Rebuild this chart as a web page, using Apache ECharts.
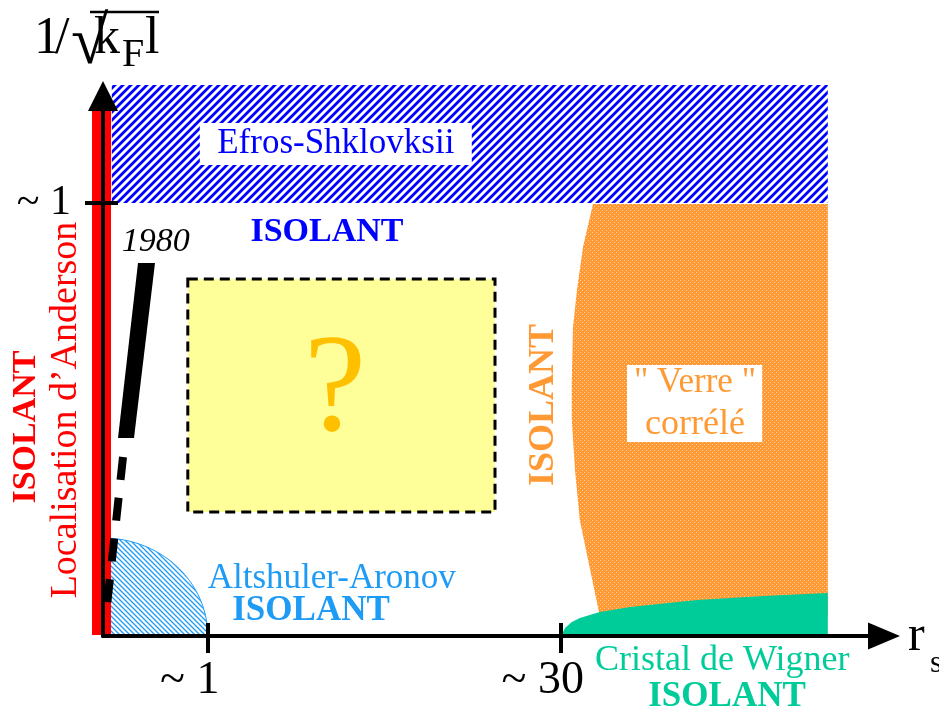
<!DOCTYPE html>
<html><head><meta charset="utf-8">
<script src="https://cdn.jsdelivr.net/npm/echarts@6/dist/echarts.min.js"></script>
<style>html,body{margin:0;padding:0;background:#fff}#c{width:939px;height:712px}</style>
</head><body><div id="c"></div>
<script>
// ---- schematic data (diagram units: x = r_s axis, y = 1/sqrt(kF l) axis) ----
const xTicks = [13.125, 57.25];
const xTickLabels = ['1', '30'];
const yTicks = [86.6];
const yTickLabels = ['1'];

const efrosBand = [[1.1, 86.6], [90.6, 110.2]];
const efrosLabelBox = [[12.1, 94.2], [46.1, 102.6]];
const verreLabelBox = [[65.5, 38.8], [82.4, 54.2]];
const questionBox = [[10.6, 24.8], [49.0, 71.4]];
const andersonBar = [[-1.375, 0.2], [1.0, 105.2]];
const line1980Solid = [[4.375, 74.6], [6.5, 74.6], [3.875, 39.6], [1.875, 39.6]];
const line1980Dashed = [[2.5, 35.8], [0.31, 3.2]];
const altshulerCenter = [0, 0];
const altshulerRadii = [13.1, 19.6];
const verreRegion = [[61.25, 86.4], [60.0, 77.8], [59.25, 69.2], [58.75, 61.8], [58.6, 51.2], [58.6, 43.2],
  [59.0, 33.2], [59.6, 23.2], [60.9, 13.2], [62.1, 4.0], [90.6, 4.0], [90.6, 86.4]];
const wignerRegion = [[57.25, 0], [57.75, 1.6], [58.6, 2.8], [59.6, 3.6], [62.1, 4.8], [65.9, 5.8],
  [74.25, 7.2], [82.5, 8.0], [90.6, 8.6], [90.6, 0]];

const labelTexts = ['Efros-Shklovksii', 'ISOLANT', 'ISOLANT', 'Localisation d\u2019Anderson', '1980', '?',
  'ISOLANT', '" Verre "', 'corrélé', 'Altshuler-Aronov', 'ISOLANT', 'Cristal de Wigner', 'ISOLANT'];
const labelAnchors = [[29.1, 98.4], [28.0, 80.8], [-9.6, 41.8], [-4.6, 45.2], [6.6, 78.8], [29.0, 48.6],
  [55.1, 46.2], [74.0, 50.6], [74.0, 42.2], [28.6, 11.4], [26.0, 5.0], [77.4, -5.0], [78.0, -12.2]];

// ---- styles ----
const FONT = '"Liberation Serif", "Times New Roman", serif';
const BLUE = '#0000FF', RED = '#FF0000', ORANGE = '#FF9933', GREEN = '#00CC99', LBLUE = '#1E9BF5', GOLD = '#FFC000';
const labelStyles = [
  {color: BLUE, size: 35}, {color: BLUE, size: 34, bold: true},
  {color: RED, size: 34, bold: true, rot: 90}, {color: RED, size: 38, rot: 90},
  {color: '#000', size: 34, italic: true}, {color: GOLD, size: 140},
  {color: ORANGE, size: 36, bold: true, rot: 90}, {color: ORANGE, size: 35}, {color: ORANGE, size: 36},
  {color: LBLUE, size: 35}, {color: LBLUE, size: 35, bold: true},
  {color: GREEN, size: 36}, {color: GREEN, size: 35, bold: true}
];

function hatch(color, p, lw, dir) {
  const c = document.createElement('canvas'); c.width = p; c.height = p;
  const g = c.getContext('2d');
  g.fillStyle = '#fff'; g.fillRect(0, 0, p, p);
  g.strokeStyle = color; g.lineWidth = lw; g.beginPath();
  if (dir === '/') {
    g.moveTo(-p, p); g.lineTo(p, -p);
    g.moveTo(0, p); g.lineTo(p, 0);
    g.moveTo(0, 2 * p); g.lineTo(2 * p, 0);
  } else {
    g.moveTo(-p, 0); g.lineTo(p, 2 * p);
    g.moveTo(0, 0); g.lineTo(p, p);
    g.moveTo(0, -p); g.lineTo(2 * p, p);
  }
  g.stroke();
  return {image: c, repeat: 'repeat'};
}
function dots() {
  const c = document.createElement('canvas'); c.width = 4; c.height = 4;
  const g = c.getContext('2d');
  g.fillStyle = ORANGE; g.fillRect(0, 0, 4, 4);
  g.fillStyle = 'rgba(255,255,255,0.55)'; g.fillRect(0, 0, 1, 1); g.fillRect(2, 2, 1, 1);
  return {image: c, repeat: 'repeat'};
}
const efrosPattern = hatch(BLUE, 8, 2.8, '/');
const altPattern = hatch(LBLUE, 5, 1.3, '\\');
const verrePattern = dots();

function rectOf(api, corners) {
  const a = api.coord(corners[0]), b = api.coord(corners[1]);
  return {x: Math.min(a[0], b[0]), y: Math.min(a[1], b[1]), width: Math.abs(b[0] - a[0]), height: Math.abs(b[1] - a[1])};
}
function poly(api, pts) { return pts.map(p => api.coord(p)); }

function shapeSeries(name, render) {
  return {type: 'custom', name, coordinateSystem: 'cartesian2d', data: [[0, 0]], silent: true,
    renderItem: (params, api) => render(api)};
}

const series = [
  shapeSeries('efros', api => ({type: 'rect', shape: rectOf(api, efrosBand), style: {fill: efrosPattern}})),
  shapeSeries('efrosBox', api => ({type: 'rect', shape: rectOf(api, efrosLabelBox), style: {fill: '#fff'}})),
  shapeSeries('verre', api => ({type: 'polygon', shape: {points: poly(api, verreRegion)}, style: {fill: verrePattern}})),
  shapeSeries('verreBox', api => ({type: 'rect', shape: rectOf(api, verreLabelBox), style: {fill: '#fff'}})),
  shapeSeries('wigner', api => ({type: 'polygon', shape: {points: poly(api, wignerRegion)}, style: {fill: GREEN}})),
  shapeSeries('altshuler', api => {
    const c = api.coord(altshulerCenter);
    const rx = api.coord([altshulerCenter[0] + altshulerRadii[0], altshulerCenter[1]])[0] - c[0];
    const ry = c[1] - api.coord([altshulerCenter[0], altshulerCenter[1] + altshulerRadii[1]])[1];
    const pts = [[c[0], c[1]]];
    for (let k = 0; k <= 60; k++) {
      const t = (Math.PI / 2) * k / 60;
      pts.push([c[0] + rx * Math.cos(t), c[1] - ry * Math.sin(t)]);
    }
    return {type: 'polygon', shape: {points: pts}, style: {fill: altPattern, stroke: LBLUE, lineWidth: 1}};
  }),
  shapeSeries('anderson', api => ({type: 'rect', shape: rectOf(api, andersonBar), style: {fill: RED}})),
  shapeSeries('question', api => ({type: 'rect', shape: rectOf(api, questionBox),
    style: {fill: '#FFFF99', stroke: '#000', lineWidth: 3, lineDash: [10, 6]}})),
  shapeSeries('1980', api => ({type: 'group', children: [
    {type: 'polygon', shape: {points: poly(api, line1980Solid)}, style: {fill: '#000'}},
    {type: 'polyline', shape: {points: poly(api, line1980Dashed)}, style: {stroke: '#000', lineWidth: 8, lineDash: [23, 18], fill: null}}
  ]})),
  {type: 'custom', name: 'labels', coordinateSystem: 'cartesian2d', silent: true,
    data: labelAnchors.map((p, i) => [p[0], p[1], i]),
    renderItem: (params, api) => {
      const i = api.value(2);
      const st = labelStyles[i];
      const p = api.coord([api.value(0), api.value(1)]);
      return {type: 'text', x: p[0], y: p[1], rotation: (st.rot || 0) * Math.PI / 180,
        style: {text: labelTexts[i], fill: st.color,
          font: (st.italic ? 'italic ' : '') + (st.bold ? 'bold ' : '') + st.size + 'px ' + FONT,
          align: 'center', verticalAlign: 'middle'}};
    }}
];

// tick label: "~ n" with the number centred on the tick (transparent spacer balances the tilde)
const tickRich = {sp: {color: 'rgba(0,0,0,0)'}};
function tickText(v, ticks, labels) {
  const i = ticks.indexOf(v);
  return i < 0 ? '' : '~ ' + labels[i] + '{sp|~ }';
}

const axisLineStyle = {color: '#000', width: 4};
const chart = echarts.init(document.getElementById('c'), null, {renderer: 'canvas'});
chart.setOption({
  animation: false,
  backgroundColor: '#fff',
  grid: {left: 103, right: 55, top: 96, bottom: 76, containLabel: false},
  xAxis: [
    {type: 'value', min: 0, max: 97.625, z: 10, position: 'bottom',
      axisLine: {show: true, lineStyle: axisLineStyle, symbol: ['none', 'triangle'], symbolSize: [27, 32]},
      axisTick: {show: true, length: 17, lineStyle: axisLineStyle, customValues: xTicks},
      axisLabel: {show: true, customValues: xTicks, margin: 22, align: 'center', color: '#000',
        fontFamily: FONT, fontSize: 46, rich: {sp: {color: 'rgba(0,0,0,0)', fontFamily: FONT, fontSize: 46}},
        formatter: v => tickText(v, xTicks, xTickLabels)},
      splitLine: {show: false}},
    {type: 'value', min: 0, max: 97.625, z: 10, position: 'bottom',
      axisLine: {show: false}, axisTick: {show: true, inside: true, length: 13, lineStyle: axisLineStyle, customValues: xTicks},
      axisLabel: {show: false}, splitLine: {show: false}}
  ],
  yAxis: [
    {type: 'value', min: 0, max: 108, z: 10, position: 'left',
      axisLine: {show: true, lineStyle: axisLineStyle, symbol: ['none', 'triangle'], symbolSize: [30, 30]},
      axisTick: {show: true, length: 18, lineStyle: axisLineStyle, customValues: yTicks},
      axisLabel: {show: true, customValues: yTicks, margin: 32, color: '#000',
        fontFamily: FONT, fontSize: 42, formatter: v => { const i = yTicks.indexOf(v); return i < 0 ? '' : '~ ' + yTickLabels[i]; }},
      splitLine: {show: false}},
    {type: 'value', min: 0, max: 108, z: 10, position: 'left',
      axisLine: {show: false}, axisTick: {show: true, inside: true, length: 15, lineStyle: axisLineStyle, customValues: yTicks},
      axisLabel: {show: false}, splitLine: {show: false}}
  ],
  series: series,
  graphic: [
    {type: 'text', left: 34, top: 13, style: {text: '1', font: '52px ' + FONT, fill: '#000'}},
    {type: 'text', left: 55, top: 13, style: {text: '/', font: '52px ' + FONT, fill: '#000'}},
    {type: 'text', left: 71, top: 11, style: {text: '\u221A', font: '68px ' + FONT, fill: '#000'}},
    {type: 'text', left: 94, top: 13, style: {text: 'k', font: '52px ' + FONT, fill: '#000'}},
    {type: 'text', left: 122, top: 35, style: {text: 'F', font: '40px ' + FONT, fill: '#000'}},
    {type: 'text', left: 145, top: 13, style: {text: 'l', font: '52px ' + FONT, fill: '#000'}},
    {type: 'line', shape: {x1: 90, y1: 12, x2: 159, y2: 12}, style: {stroke: '#000', lineWidth: 2.5}},
    {type: 'text', left: 908, top: 612, style: {text: 'r', font: '50px ' + FONT, fill: '#000'}},
    {type: 'text', left: 930, top: 648, style: {text: 's', font: '32px ' + FONT, fill: '#000'}}
  ]
});
</script></body></html>
